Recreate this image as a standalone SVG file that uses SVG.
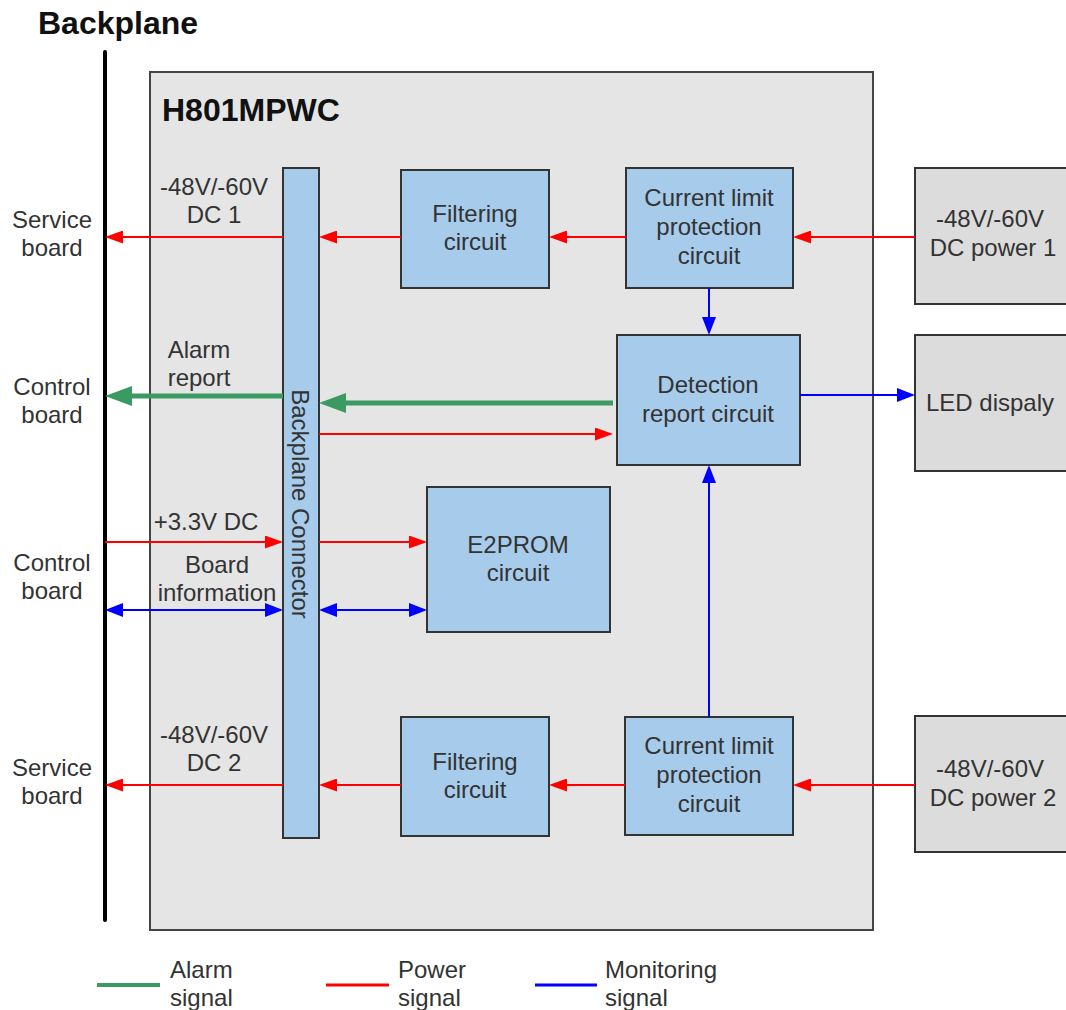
<svg xmlns="http://www.w3.org/2000/svg" width="1066" height="1010" viewBox="0 0 1066 1010">
<defs>
<marker id="ar" viewBox="0 0 18 13" refX="0" refY="6.5" markerWidth="18" markerHeight="13" orient="auto-start-reverse" markerUnits="userSpaceOnUse"><path d="M0,0 L18,6.5 L0,13 z" fill="#ff0000"/></marker>
<marker id="ab" viewBox="0 0 18 14" refX="0" refY="7" markerWidth="18" markerHeight="14" orient="auto-start-reverse" markerUnits="userSpaceOnUse"><path d="M0,0 L18,7 L0,14 z" fill="#0000ff"/></marker>
<marker id="ag" viewBox="0 0 27 20" refX="0" refY="10" markerWidth="27" markerHeight="20" orient="auto-start-reverse" markerUnits="userSpaceOnUse"><path d="M0,0 L27,10 L0,20 z" fill="#3a9a62"/></marker>
<style>
text{font-family:"Liberation Sans",Arial,sans-serif;font-size:24px;fill:#333;}
.c{text-anchor:middle;}
.b{font-weight:bold;fill:#111;font-size:32px;}
.blk{fill:#a7cbea;stroke:#333;stroke-width:2;}
.ext{fill:#dcdcdc;stroke:#333;stroke-width:2;}
.r{stroke:#ff0000;stroke-width:2;fill:none;}
.bl{stroke:#0000ff;stroke-width:2;fill:none;}
.g{stroke:#3a9a62;stroke-width:5;fill:none;}
</style>
</defs>
<rect width="1066" height="1010" fill="#fff"/>
<text x="38" y="34" class="b">Backplane</text>
<line x1="105" y1="52" x2="105" y2="920" stroke="#000" stroke-width="4" stroke-linecap="round"/>
<g id="main"><rect x="150" y="72" width="723" height="858" fill="#e5e5e5" stroke="#444" stroke-width="2"/>
<text x="162" y="121" class="b">H801MPWC</text></g>

<g id="connector"><rect x="283" y="168" width="36" height="670" class="blk"/>
<text transform="translate(292,504) rotate(90)" class="c">Backplane Connector</text></g>
<g id="filter1"><rect x="401" y="170" width="148" height="118" class="blk"/>
<text x="475" y="222" class="c">Filtering</text><text x="475" y="250" class="c">circuit</text></g>
<g id="clp1"><rect x="626" y="168" width="167" height="120" class="blk"/>
<text x="709" y="206" class="c">Current limit</text><text x="709" y="235" class="c">protection</text><text x="709" y="264" class="c">circuit</text></g>
<g id="detect"><rect x="617" y="335" width="183" height="130" class="blk"/>
<text x="708" y="393" class="c">Detection</text><text x="708" y="422" class="c">report circuit</text></g>
<g id="e2prom"><rect x="427" y="487" width="183" height="145" class="blk"/>
<text x="518" y="553" class="c">E2PROM</text><text x="518" y="581" class="c">circuit</text></g>
<g id="filter2"><rect x="401" y="717" width="148" height="119" class="blk"/>
<text x="475" y="770" class="c">Filtering</text><text x="475" y="798" class="c">circuit</text></g>
<g id="clp2"><rect x="625" y="717" width="168" height="118" class="blk"/>
<text x="709" y="754" class="c">Current limit</text><text x="709" y="783" class="c">protection</text><text x="709" y="812" class="c">circuit</text></g>
<g id="dc1"><rect x="915" y="168" width="152" height="136" class="ext"/>
<text x="990" y="227" class="c">-48V/-60V</text><text x="993" y="256" class="c">DC power 1</text></g>
<g id="led"><rect x="915" y="335" width="152" height="136" class="ext"/>
<text x="990" y="411" class="c">LED dispaly</text></g>
<g id="dc2"><rect x="915" y="716" width="152" height="136" class="ext"/>
<text x="990" y="777" class="c">-48V/-60V</text><text x="993" y="806" class="c">DC power 2</text></g>

<g id="connectors">
<line x1="915" y1="237" x2="811" y2="237" class="r" marker-end="url(#ar)"/>
<line x1="626" y1="237" x2="567" y2="237" class="r" marker-end="url(#ar)"/>
<line x1="401" y1="237" x2="337" y2="237" class="r" marker-end="url(#ar)"/>
<line x1="283" y1="237" x2="123" y2="237" class="r" marker-end="url(#ar)"/>
<line x1="709" y1="288" x2="709" y2="317" class="bl" marker-end="url(#ab)"/>
<line x1="613" y1="403" x2="346" y2="403" class="g" marker-end="url(#ag)"/>
<line x1="283" y1="396" x2="132" y2="396" class="g" marker-end="url(#ag)"/>
<line x1="319" y1="434" x2="595" y2="434" class="r" marker-end="url(#ar)"/>
<line x1="800" y1="395" x2="897" y2="395" class="bl" marker-end="url(#ab)"/>
<line x1="709" y1="717" x2="709" y2="483" class="bl" marker-end="url(#ab)"/>
<line x1="105" y1="542" x2="265" y2="542" class="r" marker-end="url(#ar)"/>
<line x1="319" y1="542" x2="409" y2="542" class="r" marker-end="url(#ar)"/>
<line x1="123" y1="610" x2="265" y2="610" class="bl" marker-start="url(#ab)" marker-end="url(#ab)"/>
<line x1="337" y1="610" x2="409" y2="610" class="bl" marker-start="url(#ab)" marker-end="url(#ab)"/>
<line x1="915" y1="785" x2="811" y2="785" class="r" marker-end="url(#ar)"/>
<line x1="625" y1="785" x2="567" y2="785" class="r" marker-end="url(#ar)"/>
<line x1="401" y1="785" x2="337" y2="785" class="r" marker-end="url(#ar)"/>
<line x1="283" y1="785" x2="123" y2="785" class="r" marker-end="url(#ar)"/>
</g>

<text x="52" y="228" class="c">Service</text><text x="52" y="256" class="c">board</text>
<text x="214" y="195" class="c">-48V/-60V</text><text x="214" y="223" class="c">DC 1</text>
<text x="199" y="358" class="c">Alarm</text><text x="199" y="386" class="c">report</text>
<text x="52" y="395" class="c">Control</text><text x="52" y="423" class="c">board</text>
<text x="206" y="530" class="c">+3.3V DC</text>
<text x="52" y="571" class="c">Control</text><text x="52" y="599" class="c">board</text>
<text x="217" y="573" class="c">Board</text><text x="217" y="601" class="c">information</text>
<text x="214" y="743" class="c">-48V/-60V</text><text x="214" y="771" class="c">DC 2</text>
<text x="52" y="776" class="c">Service</text><text x="52" y="804" class="c">board</text>

<g id="legend">
<line x1="97" y1="985" x2="160" y2="985" stroke="#3a9a62" stroke-width="4"/>
<text x="170" y="978">Alarm</text><text x="170" y="1006">signal</text>
<line x1="326" y1="985" x2="389" y2="985" stroke="#ff0000" stroke-width="3"/>
<text x="398" y="978">Power</text><text x="398" y="1006">signal</text>
<line x1="535" y1="985" x2="597" y2="985" stroke="#0000ff" stroke-width="3"/>
<text x="605" y="978">Monitoring</text><text x="605" y="1006">signal</text>
</g>
</svg>
